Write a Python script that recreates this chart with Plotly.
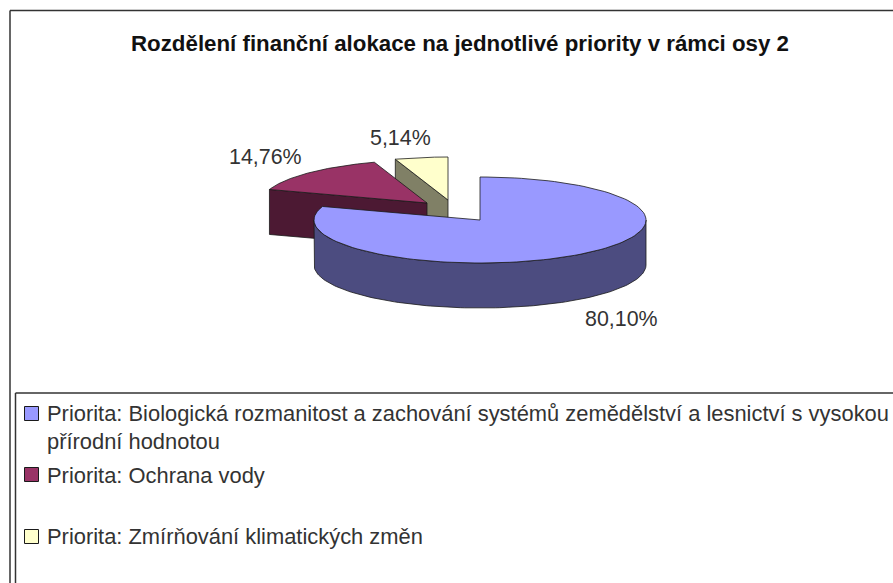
import numpy as np
import plotly.graph_objects as go

TITLE = "Rozdělení finanční alokace na jednotlivé priority v rámci osy 2"
priorities = [
    "Priorita: Biologická rozmanitost a zachování systémů zemědělství a lesnictví s vysokou<br>přírodní hodnotou",
    "Priorita: Ochrana vody",
    "Priorita: Zmírňování klimatických změn",
]
shares = [80.10, 14.76, 5.14]
share_labels = ["80,10%", "14,76%", "5,14%"]

top_colors = ["#9999FF", "#993366", "#FFFFCC"]
side_colors = ["#4C4C80", "#4C1933", "#808066"]

# pie geometry in page pixels, the x/y axes below map 1:1 to the window
W, H = 893, 583
RX, RY, DEPTH = 166, 43, 45
apex = [(480, 220), (427, 203), (448, 200)]
label_pos = [(621, 319), (265, 157), (400, 138)]
swatch_y = [413.5, 474.5, 536.5]
legend_text_y = [427, 475, 536]

OUTLINE = "#1a1a1a"


def rim(cx, cy, a0, a1, drop=0):
    # angles in degrees, clockwise from 12 o'clock
    t = np.radians(np.linspace(a0, a1, 120))
    return cx + RX * np.sin(t), cy - RY * np.cos(t) + drop


def poly(x, y, color):
    return go.Scatter(
        x=x, y=y, mode="lines", fill="toself", fillcolor=color,
        line=dict(color=OUTLINE, width=0.8), hoverinfo="skip", showlegend=False,
    )


cum = np.concatenate([[0], np.cumsum(shares)]) * 3.6
fig = go.Figure()

# back to front: yellow, red, blue
for i in [2, 1, 0]:
    cx, cy = apex[i]
    a0, a1 = cum[i], cum[i + 1]

    # flat cut face that looks towards the viewer
    if i > 0:
        ex, ey = rim(cx, cy, a0, a0)
        fig.add_trace(poly(
            [ex[0], cx, cx, ex[0], ex[0]],
            [ey[0], cy, cy + DEPTH, ey[0] + DEPTH, ey[0]],
            side_colors[i],
        ))
    else:
        # outer wall of the big slice, right edge round the front to the left edge
        ux, uy = rim(cx, cy, 90, 270)
        lx, ly = rim(cx, cy, 270, 90, DEPTH)
        fig.add_trace(poly(np.r_[ux, lx, ux[0]], np.r_[uy, ly, uy[0]], side_colors[i]))

    rx, ry = rim(cx, cy, a0, a1)
    fig.add_trace(poly(np.r_[cx, rx, cx], np.r_[cy, ry, cy], top_colors[i]))

# legend swatches
fig.add_trace(go.Scatter(
    x=[31.5] * 3, y=swatch_y, mode="markers",
    marker=dict(symbol="square", size=14, color=top_colors,
                line=dict(color=OUTLINE, width=1)),
    hoverinfo="skip", showlegend=False,
))

annotations = [dict(
    x=460, y=43, text="<b>" + TITLE + "</b>", showarrow=False,
    font=dict(size=22.3, color="#111111"),
)]
for (px, py), txt in zip(label_pos, share_labels):
    annotations.append(dict(x=px, y=py, text=txt, showarrow=False,
                            font=dict(size=21.4, color="#333333")))
for name, ty in zip(priorities, legend_text_y):
    annotations.append(dict(
        x=45, y=ty, text=name, showarrow=False, xanchor="left", align="left",
        font=dict(size=21.9, color="#333333"),
    ))

frame = dict(color="#333333", width=1.5)
shapes = [
    dict(type="line", x0=10, y0=10.5, x1=W, y1=10.5, line=frame),
    dict(type="line", x0=10, y0=10.5, x1=10, y1=H, line=frame),
    dict(type="line", x0=15.5, y0=393, x1=W, y1=393, line=frame),
    dict(type="line", x0=15.5, y0=393, x1=15.5, y1=H, line=frame),
]

fig.update_layout(
    width=W, height=H, margin=dict(l=0, r=0, t=0, b=0),
    paper_bgcolor="white", plot_bgcolor="white",
    font=dict(family="Liberation Sans, Arial, sans-serif"),
    xaxis=dict(range=[0, W], visible=False),
    yaxis=dict(range=[H, 0], visible=False),
    annotations=annotations, shapes=shapes,
)

# the page's default body margin would push the figure 8px off
fig.write_html("out.html", config={"displayModeBar": False},
               post_script="document.body.style.margin = '0';")
